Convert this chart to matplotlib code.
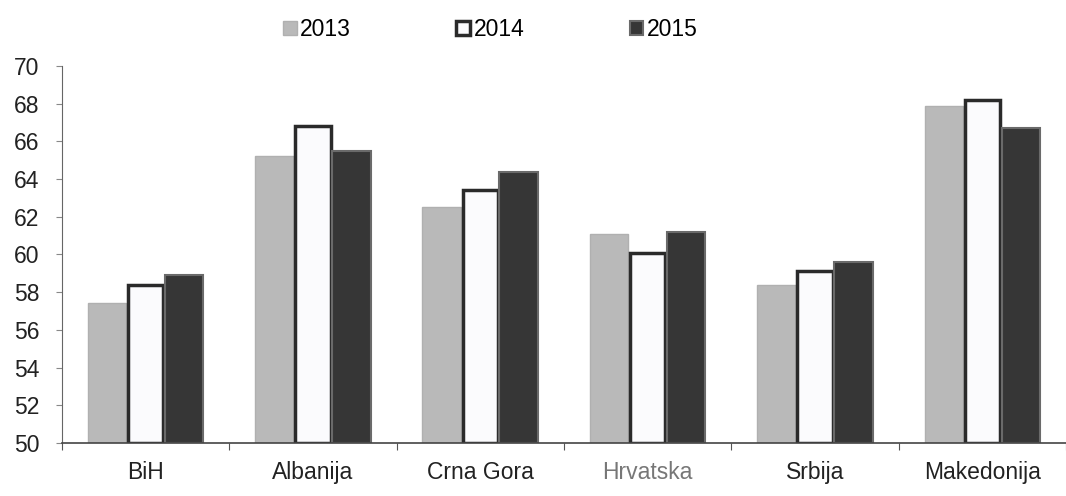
import matplotlib
matplotlib.use("Agg")
import matplotlib.pyplot as plt
import numpy as np

categories = ["BiH", "Albanija", "Crna Gora", "Hrvatska", "Srbija", "Makedonija"]
years = ["2013", "2014", "2015"]
v2013 = [57.4, 65.2, 62.5, 61.1, 58.4, 67.9]
v2014 = [58.4, 66.8, 63.4, 60.1, 59.1, 68.2]
v2015 = [58.9, 65.5, 64.4, 61.2, 59.6, 66.7]
yticks = [50, 52, 54, 56, 58, 60, 62, 64, 66, 68, 70]

plt.rcParams["font.family"] = ["Liberation Sans", "DejaVu Sans"]

fig = plt.figure(figsize=(10.66, 4.96), dpi=100)
ax = fig.add_axes([0.058, 0.107, 0.942, 0.76])

x = np.arange(len(categories))
w = 0.23
b1 = ax.bar(x - w, np.array(v2013) - 50, w, bottom=50, color="#b9b9b9", edgecolor="#b0b0b0", linewidth=1, label=years[0])
b2 = ax.bar(x, np.array(v2014) - 50, w * 0.92, bottom=50, color="#fbfbfd", edgecolor="#2a2a2a", linewidth=2.5, label=years[1])
b3 = ax.bar(x + w, np.array(v2015) - 50, w, bottom=50, color="#363636", edgecolor="#6a6a6a", linewidth=1.5, label=years[2])

ax.set_xlim(-0.5, len(categories) - 0.5)
ax.set_ylim(50, 70)
ax.set_yticks(yticks)
ax.set_yticklabels([str(t) for t in yticks], fontsize=16.5, color="#222222")
ax.set_xticks(np.arange(len(categories) + 1) - 0.5, minor=False)
ax.set_xticklabels([])
ax.set_xticks(x, minor=True)
ax.set_xticklabels(categories, minor=True, fontsize=16.5, color="#222222")
ax.tick_params(axis="x", which="minor", length=0, pad=13)
ax.tick_params(axis="x", which="major", length=5, color="#555555", direction="out")
ax.tick_params(axis="y", length=4, color="#888888", pad=12)
for lbl in ax.get_xticklabels(minor=True):
    if lbl.get_text() == "Hrvatska":
        lbl.set_color("#777777")

for s in ["top", "right"]:
    ax.spines[s].set_visible(False)
ax.spines["left"].set_color("#666666")
ax.spines["bottom"].set_color("#444444")
ax.spines["bottom"].set_linewidth(1.2)

leg = fig.legend(handles=[b1, b2, b3], labels=years, loc="center", bbox_to_anchor=(0.46, 0.94),
                 ncol=3, frameon=False, fontsize=16.5, handlelength=0.6, handleheight=0.6,
                 handletextpad=0.15, columnspacing=4.6)

fig.savefig("out.png", dpi=100, facecolor="white")
